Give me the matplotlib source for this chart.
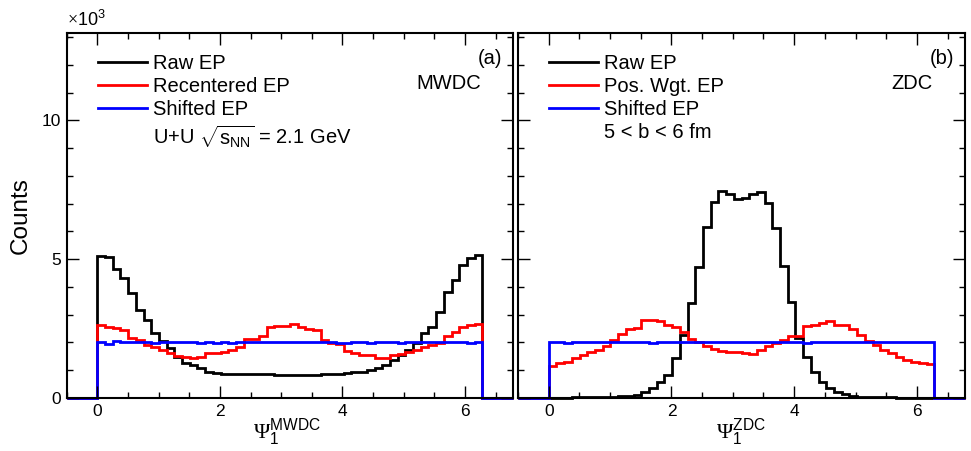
import numpy as np
import matplotlib
matplotlib.use('Agg')
import matplotlib.pyplot as plt
from matplotlib.lines import Line2D
from matplotlib.ticker import MultipleLocator

plt.rcParams['font.family'] = ['Liberation Sans', 'DejaVu Sans']
plt.rcParams['mathtext.fontset'] = 'custom'
plt.rcParams['mathtext.rm'] = 'Liberation Serif'
plt.rcParams['mathtext.sf'] = 'Liberation Sans'
plt.rcParams['mathtext.it'] = 'Liberation Sans:italic'

# 50 bins over [0, 2pi], counts in units of 10^3
n_bins = 50

mwdc_raw = [5.12, 5.08, 4.64, 4.34, 3.78, 3.17, 2.81, 2.33, 2.06, 1.79,
            1.49, 1.25, 1.19, 1.07, 0.95, 0.91, 0.88, 0.86, 0.85, 0.86,
            0.85, 0.87, 0.86, 0.82, 0.83, 0.84, 0.84, 0.83, 0.84, 0.85,
            0.86, 0.88, 0.90, 0.92, 0.95, 1.01, 1.07, 1.19, 1.37, 1.55,
            1.73, 1.97, 2.33, 2.57, 3.11, 3.83, 4.26, 4.80, 5.04, 5.16]
mwdc_recentered = [2.63, 2.57, 2.51, 2.45, 2.15, 2.09, 1.91, 1.85, 1.73, 1.61,
                   1.51, 1.49, 1.45, 1.49, 1.61, 1.63, 1.67, 1.73, 1.85, 2.12,
                   2.13, 2.24, 2.55, 2.58, 2.60, 2.66, 2.57, 2.50, 2.45, 2.09,
                   1.97, 1.93, 1.70, 1.61, 1.55, 1.54, 1.45, 1.43, 1.55, 1.58,
                   1.67, 1.73, 1.85, 1.91, 1.97, 2.24, 2.39, 2.57, 2.63, 2.66]
mwdc_shifted = [2.02, 1.95, 2.06, 2.01, 2.02, 2.03, 2.00, 1.99, 2.01, 2.02,
                2.00, 2.01, 2.00, 1.99, 2.01, 1.98, 2.00, 1.99, 2.01, 2.03,
                2.02, 2.01, 2.00, 2.02, 2.01, 2.00, 2.01, 2.02, 2.00, 2.01,
                2.02, 1.99, 1.97, 2.01, 2.00, 1.98, 2.01, 2.00, 2.00, 1.99,
                2.01, 2.02, 2.01, 2.00, 2.01, 2.02, 2.03, 2.01, 1.99, 2.01]

zdc_raw = [0.01, 0.01, 0.01, 0.02, 0.02, 0.02, 0.03, 0.04, 0.05, 0.06,
           0.09, 0.12, 0.23, 0.35, 0.59, 0.83, 1.43, 2.27, 3.41, 4.73,
           6.17, 7.07, 7.46, 7.34, 7.16, 7.22, 7.36, 7.44, 7.02, 6.12,
           4.76, 3.47, 2.15, 1.47, 0.95, 0.59, 0.35, 0.23, 0.14, 0.08,
           0.05, 0.04, 0.03, 0.02, 0.02, 0.01, 0.01, 0.01, 0.01, 0.01]
zdc_poswgt = [1.15, 1.25, 1.31, 1.43, 1.55, 1.64, 1.73, 1.88, 2.09, 2.30,
              2.48, 2.51, 2.81, 2.81, 2.79, 2.63, 2.55, 2.39, 2.12, 2.03,
              1.88, 1.76, 1.71, 1.64, 1.64, 1.63, 1.59, 1.73, 1.88, 1.97,
              2.09, 2.24, 2.24, 2.60, 2.63, 2.69, 2.78, 2.63, 2.63, 2.48,
              2.27, 2.06, 1.91, 1.73, 1.61, 1.49, 1.37, 1.31, 1.25, 1.22]
zdc_shifted = [2.01, 2.00, 1.99, 2.01, 2.02, 2.00, 2.01, 2.00, 2.02, 2.01,
               2.00, 2.01, 2.00, 1.99, 2.01, 2.02, 2.00, 2.01, 2.00, 2.02,
               2.01, 2.00, 2.02, 2.01, 2.00, 2.02, 2.01, 2.00, 2.01, 2.02,
               2.01, 2.03, 2.00, 1.99, 2.01, 2.00, 2.01, 2.02, 2.01, 2.02,
               2.01, 2.00, 2.01, 2.02, 2.01, 2.00, 2.01, 2.00, 2.01, 2.00]

xmin, xmax = -0.5, 2 * np.pi + 0.5
ymax = 13.15

edges = np.concatenate([[xmin], np.linspace(0, 2 * np.pi, n_bins + 1), [xmax]])


def pad(v):
    return np.concatenate([[0], v, [0]])


fig = plt.figure(figsize=(9.71, 4.51), dpi=100)
ax1 = fig.add_axes([0.0687, 0.1175, 0.4596, 0.8093])
ax2 = fig.add_axes([0.5335, 0.1175, 0.4603, 0.8093])

panels = [
    (ax1, [mwdc_raw, mwdc_recentered, mwdc_shifted],
     ['Raw EP', 'Recentered EP', 'Shifted EP', r'U+U $\sqrt{\mathsf{s}_{\mathsf{NN}}}$ = 2.1 GeV'],
     '(a)', 'MWDC', r'$\Psi_{\mathsf{1}}^{\mathsf{MWDC}}$', 0.417),
    (ax2, [zdc_raw, zdc_poswgt, zdc_shifted],
     ['Raw EP', 'Pos. Wgt. EP', 'Shifted EP', '5 < b < 6 fm'],
     '(b)', 'ZDC', r'$\Psi_{\mathsf{1}}^{\mathsf{ZDC}}$', 0.444),
]
colors = ['#000000', '#ff0000', '#0000ff']

for ax, series, labels, tag, det, xlab, xlab_x in panels:
    for vals, c in zip(series, colors):
        ax.stairs(pad(vals), edges, baseline=None, color=c, lw=2.0, clip_on=False)
    ax.set_xlim(xmin, xmax)
    ax.set_ylim(0, ymax)
    ax.xaxis.set_major_locator(MultipleLocator(2))
    ax.xaxis.set_minor_locator(MultipleLocator(0.5))
    ax.yaxis.set_major_locator(MultipleLocator(5))
    ax.yaxis.set_minor_locator(MultipleLocator(1))
    ax.tick_params(which='both', direction='in', top=True, right=True, width=1.0,
                   labelsize=12.5, pad=4)
    ax.tick_params(which='major', length=8.5)
    ax.tick_params(which='minor', length=4.3)
    for s in ax.spines.values():
        s.set_linewidth(1.5)

    handles = [Line2D([], [], color=c, lw=2.0) for c in colors]
    handles.append(Line2D([], [], color='none'))
    ax.legend(handles, labels, loc='upper left', bbox_to_anchor=(0.07, 0.942),
              frameon=False, fontsize=14.5, handlelength=2.43, handletextpad=0.31,
              borderpad=0, borderaxespad=0, labelspacing=0.2)

    ax.text(0.976, 0.930, tag, transform=ax.transAxes, ha='right', va='center', fontsize=14.5)
    ax.text(0.928, 0.862, det, transform=ax.transAxes, ha='right', va='center', fontsize=14.5)
    ax.text(xlab_x, -0.112, xlab, transform=ax.transAxes, ha='left', va='baseline', fontsize=16)

ax2.tick_params(labelleft=False)
ax1.set_ylabel('Counts', fontsize=17.5, labelpad=7)
ax1.text(0.0, 1.008, r'$\times\mathsf{10}^{\mathsf{3}}$', transform=ax1.transAxes,
         ha='left', va='bottom', fontsize=13)

fig.savefig('out.png', dpi=100)
